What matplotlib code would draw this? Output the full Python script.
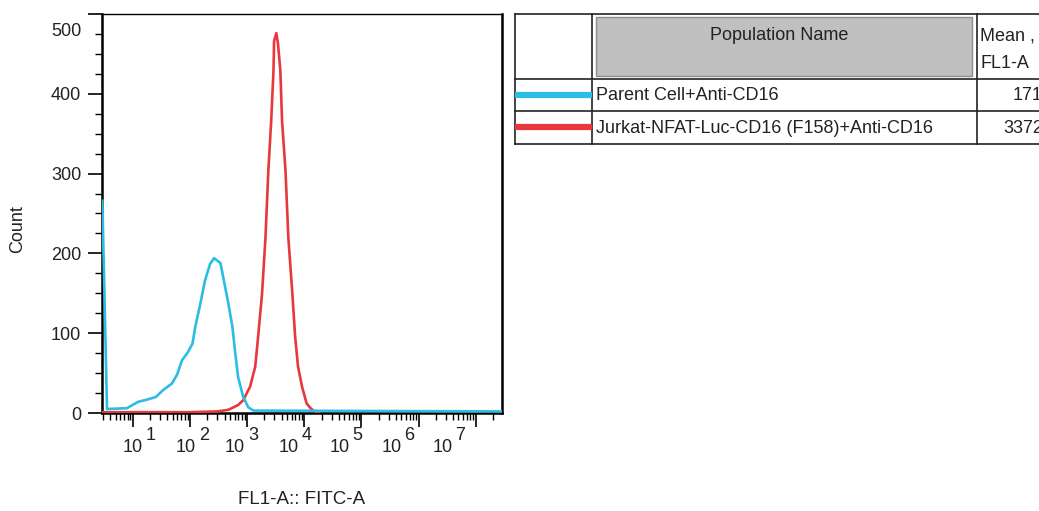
import matplotlib
matplotlib.use("Agg")
import matplotlib.pyplot as plt
import matplotlib.transforms as mtransforms
from matplotlib.patches import Rectangle
from matplotlib.ticker import LogLocator, FixedLocator, NullFormatter

plt.rcParams['font.family'] = ['Liberation Sans', 'DejaVu Sans']

# histogram traces (FL1-A intensity, count)
parent_x = [2.9, 3.5, 7.8, 12.3, 18, 25, 34, 48, 59, 72, 91, 110, 123, 151, 182, 224,
            263, 339, 380, 468, 550, 617, 692, 851, 1047, 1288, 3.0e7]
parent_y = [266, 5, 6, 14, 17, 20, 29, 37, 48, 66, 76, 87, 108, 137, 166, 187,
            194, 188, 170, 137, 108, 75, 45, 20, 7, 3, 2]

jurkat_x = [2.9, 100, 300, 468, 692, 851, 1122, 1380, 1549, 1820, 2089, 2344, 2630,
            2884, 2951, 3236, 3467, 3802, 4074, 4677, 5248, 6166, 6918, 7762, 9120,
            10965, 12882, 14454, 18000]
jurkat_y = [1, 1, 2, 4, 10, 16, 33, 58, 95, 150, 220, 304, 366,
            429, 466, 476, 462, 429, 366, 304, 220, 150, 95, 58, 33,
            12, 6, 3, 0]

populations = ["Parent Cell+Anti-CD16", "Jurkat-NFAT-Luc-CD16 (F158)+Anti-CD16"]
means = ["171", "3372"]
colors = ["#2bbde4", "#e8383d"]

decades = [10, 100, 1e3, 1e4, 1e5, 1e6, 1e7]
exponents = ["1", "2", "3", "4", "5", "6", "7"]
# the decade labels drift left of their ticks in the original export (pixels)
label_shift = [10, 6, -2, -6, -12, -17, -23]

fig = plt.figure(figsize=(10.39, 5.11), dpi=100)
ax = fig.add_axes([102 / 1039, (511 - 413) / 511, 400 / 1039, 399 / 511])

ax.plot(jurkat_x, jurkat_y, color=colors[1], lw=1.9, zorder=3)
ax.plot(parent_x, parent_y, color=colors[0], lw=1.9, zorder=4)

ax.set_xscale('log')
ax.set_xlim(2.86, 2.9e7)
ax.set_ylim(0, 500)

ax.xaxis.set_major_locator(FixedLocator(decades))
ax.xaxis.set_major_formatter(NullFormatter())
ax.xaxis.set_minor_locator(LogLocator(base=10, subs=range(2, 10), numticks=20))
ax.xaxis.set_minor_formatter(NullFormatter())
ax.set_yticks([0, 100, 200, 300, 400, 500])
ax.set_yticks(range(0, 501, 25), minor=True)
ax.tick_params(axis='both', which='major', length=10, width=1.2, labelsize=13, direction='out')
ax.tick_params(axis='both', which='minor', length=5, width=1.0, direction='out')
ax.tick_params(axis='y', which='major', pad=5, labelcolor='#222222')
for lab in ax.get_yticklabels():
    if lab.get_text() == "500":
        lab.set_transform(lab.get_transform() + mtransforms.ScaledTranslation(0, -0.16, fig.dpi_scale_trans))

# "10" with a raised exponent under every decade tick
xt = ax.get_xaxis_transform()
for d, e, sh in zip(decades, exponents, label_shift):
    ax.annotate("10", (d, 0), xycoords=xt, xytext=(sh * 0.72, -28),
                textcoords='offset points', ha='right', va='baseline',
                fontsize=13, color='#222222', annotation_clip=False)
    ax.annotate(e, (d, 0), xycoords=xt, xytext=((sh + 3) * 0.72, -19.5),
                textcoords='offset points', ha='left', va='baseline',
                fontsize=13, color='#222222', annotation_clip=False)

for s in ax.spines.values():
    s.set_linewidth(1.8)
ax.spines['top'].set_linewidth(1.0)

ax.set_ylabel("Count", fontsize=13, color='#222222', va='center')
ax.yaxis.set_label_coords(-0.21, 0.46)
ax.set_xlabel("FL1-A:: FITC-A", fontsize=13.5, color='#222222')
ax.xaxis.set_label_coords(0.5, -0.218)
ax.xaxis.label.set_va('center')

# table on the right, drawn in pixel coordinates
tab = fig.add_axes([0, 0, 1, 1])
tab.set_xlim(0, 1039)
tab.set_ylim(511, 0)
tab.axis('off')

col_x = [515, 592, 977, 1100]
row_y = [14, 79, 111, 144]
tab.add_patch(Rectangle((596, 17), 376, 59, facecolor='#c0c0c0', edgecolor='#8c8c8c', lw=1.0))
for y in row_y:
    tab.plot([col_x[0], col_x[-1]], [y, y], color='#222222', lw=1.2)
for x in col_x[:3]:
    tab.plot([x, x], [row_y[0], row_y[-1]], color='#222222', lw=1.2)

tab.text(779, 36, "Population Name", ha='center', va='center', fontsize=13, color='#222222')
tab.text(980, 36, "Mean ,", ha='left', va='center', fontsize=13, color='#222222')
tab.text(980, 64, "FL1-A", ha='left', va='center', fontsize=13, color='#222222')

for i, (name, m, c) in enumerate(zip(populations, means, colors)):
    yc = (row_y[i + 1] + row_y[i + 2]) / 2
    tab.plot([515, 592], [yc, yc], color=c, lw=4.5, solid_capstyle='butt')
    tab.text(596, yc + 1, name, ha='left', va='center', fontsize=13, color='#222222')
    tab.text(1013 if i == 0 else 1003, yc + 1, m, ha='left', va='center', fontsize=13,
             color='#222222', clip_on=True)

fig.savefig("out.png", dpi=100)
